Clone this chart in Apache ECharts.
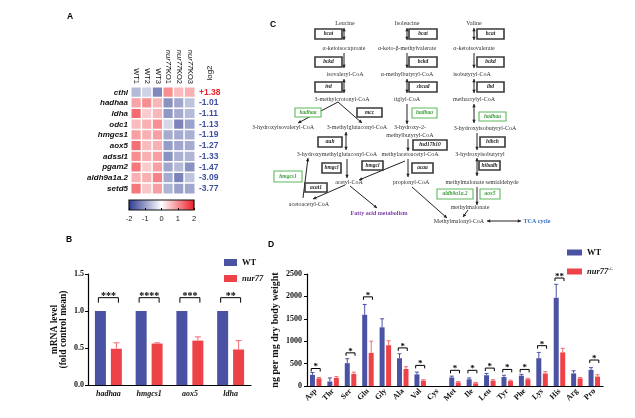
<!DOCTYPE html>
<html><head><meta charset="utf-8">
<script src="https://cdn.jsdelivr.net/npm/echarts@6/dist/echarts.min.js"></script>
<style>html,body{margin:0;padding:0;background:#fff}#c{width:635px;height:418px}</style>
</head><body><div id="c"></div>
<script>
// ---------- DATA ----------
const hmCols = ['WT1','WT2','WT3','nur77KO1','nur77KO2','nur77KO3'];
const hmRows = ['cthl','hadhaa','ldha','odc1','hmgcs1','aox5','adssl1','pgam2','aldh9a1a.2','setd5'];
const hmValues = [
  [-0.7,-0.45,-1.2, 1.0, 0.6, 0.7],
  [ 0.8, 1.0, 0.65,-1.1,-0.9,-0.6],
  [ 1.3, 0.45,0.65,-1.05,-0.85,-0.7],
  [ 0.6, 0.7, 1.0,-0.4,-1.25,-0.95],
  [ 0.85,0.7, 0.85,-0.85,-0.85,-0.8],
  [ 1.25,0.6, 0.7,-1.0,-0.9,-0.85],
  [ 1.0, 0.7, 0.85,-1.1,-0.8,-0.75],
  [ 1.2, 0.45,0.85,-0.9,-0.7,-1.1],
  [ 0.7, 0.7, 1.1,-0.85,-1.25,-0.6],
  [ 1.2, 0.5, 0.85,-0.75,-0.95,-0.9]
];
const log2Labels = ['+1.38','-1.01','-1.11','-1.13','-1.19','-1.27','-1.33','-1.47','-3.09','-3.77'];
const cbTicks = [-2,-1,0,1,2];

const bCats = ['hadhaa','hmgcs1','aox5','ldha'];
const bWT = [1,1,1,1];
const bKO = [0.49,0.56,0.60,0.48];
const bKOerr = [0.08,0.01,0.05,0.12];
const bBracketY = [1.18,1.18,1.18,1.18];
const bStars = ['***','****','***','**'];

const dCats = ['Asp','Thr','Ser','Glu','Gly','Ala','Val','Cys','Met','Ile','Leu','Tyr','Phe','Lys','His','Arg','Pro'];
const dWT    = [250,100,510,1590,1310,620,260,0,190,150,240,200,230,620,1970,280,360];
const dWTerr = [ 50, 80,100, 230, 190,100, 50,0, 30, 30, 40, 40, 30,130, 300, 60, 50];
const dKO    = [170,180,270, 740, 910,380,120,0, 80, 60,120,110,150,280, 750,170,210];
const dKOerr = [ 20, 30, 40, 260, 100, 50, 20,0, 20, 20, 20, 20, 20, 40,  90, 20, 40];
const dSigCat = [0,2,3,5,6,8,9,10,11,12,13,14,16];
const dSigY   = [390,740,1990,850,460,350,350,400,370,370,900,2410,580];
const dSigLbl = ['*','*','*','*','*','*','*','*','*','*','*','**','*'];

// pathway diagram (panel C)
const cMetab = [
 ['Leucine',345,23],['Isoleucine',407,23],['Valine',474,23],
 ['α-ketoisocaproate',344,48],['α-keto-β-methylvalerate',407,48],['α-ketoisovalerate',474,48],
 ['isovaleryl-CoA',345,74],['α-methylbutyryl-CoA',407,74],['isobutyryl-CoA',472,74],
 ['3-methylcrotonyl-CoA',342,99],['tiglyl-CoA',407,99],['methacrylyl-CoA',474,99],
 ['3-hydroxyisovaleryl-CoA',283,127],['3-methylglutaconyl-CoA',357,127],['3-hydroxy-2-',410,127],['methylbutyryl-CoA',410,135],['3-hydroxyisobutyryl-CoA',485,128],
 ['3-hydroxymethylglutaconyl-CoA',337,154],['methylacetoacetyl-CoA',410,154],['3-hydroxyisobutyryl',480,154],
 ['acetyl-CoA',349,182],['propionyl-CoA',411,182],['methylmalonate semialdehyde',482,182],
 ['acetoacetyl-CoA',309,204],['methylmalonate',470,207],['Methylmalonyl-CoA',459,221]
];
const cSpecial = [['Fatty acid metabolism',379,213,'#7b3fa6'],['TCA cycle',537,221,'#3a6fc4']];
const cBoxes = [
 ['bcat',315,29,342,39,0],['bcat',409,29,437,39,0],['bcat',477,29,504,39,0],
 ['bckd',315,57,342,67,0],['bckd',409,57,437,67,0],['bckd',477,57,504,67,0],
 ['ivd',315,82,342,92,0],['sbcad',409,82,437,92,0],['ibd',477,82,504,92,0],
 ['hadhaa',295,108,321,117,1],['mcc',357,108,382,117,0],['hadhaa',412,108,437,118,1],['hadhaa',479,112,506,121,1],
 ['auh',318,137,342,147,0],['hsd17b10',413,140,447,150,0],['hibch',480,137,505,147,0],
 ['hmgcl',322,163,341,173,0],['hmgcl',362,161,383,170,0],['acaa',412,163,433,173,0],['hibadh',479,161,500,170,0],
 ['hmgcs1',274,171,302,182,1],['acat1',305,183,327,192,0],['aldh9a1a.2',437,189,473,199,1],['aox5',480,189,500,199,1]
];
const cArrows = [
 [344,28,344,40,1],[407,28,407,40,1],[474,28,474,40,1],
 [344,53,344,68,0],[407,53,407,68,0],[474,53,474,68,0],
 [344,79,344,93,1],[407,79,407,93,1],[474,79,474,93,1],
 [338,102,298,123,0],[338,102,362,123,0],[407,104,407,124,0],[474,104,474,123,1],
 [346,132,346,150,1],[408,139,408,151,0],[477,133,477,150,0],
 [347,159,347,178,0],[405,161,359,180,0],[408,159,408,177,0],[477,158,477,176,1],
 [303,198,308,158,0],[345,185,313,199,0],[350,186,377,208,0],
 [412,187,447,218,0],[477,187,477,205,0],[468,210,463,217,0],[487,221,521,221,1]
];

// ---------- STYLE ----------
const SERIF = '"Liberation Serif","Times New Roman",serif';
const SANS = '"Liberation Sans",Arial,sans-serif';
const BLUE = '#4a52a3', RED = '#ee4249';

function txt(x,y,t,o){o=o||{};return {type:'text',x:x,y:y,rotation:o.rot||0,z:o.z||10,style:{text:t,fill:o.fill||'#222',font:o.font||('6px '+SERIF),align:o.align||'center',verticalAlign:o.va||'middle',textAlign:o.align||'center',textVerticalAlign:o.va||'middle'}};}
function head(tx,ty,fx,fy){const a=Math.atan2(ty-fy,tx-fx),s=3.2,h=1.7,c=Math.cos(a),n=Math.sin(a);
 return {type:'polygon',z:6,shape:{points:[[tx,ty],[tx-s*c-h*n,ty-s*n+h*c],[tx-s*c+h*n,ty-s*n-h*c]]},style:{fill:'#222'}};}
const gfx = [];
[['A',70,17],['B',69,240],['C',273,25],['D',271,245]].forEach(p=>gfx.push(txt(p[1],p[2],p[0],{font:'bold 8.5px '+SANS,fill:'#000'})));
gfx.push(txt(210,73,'log2',{rot:Math.PI/2,font:'8px '+SANS,fill:'#111'}));
cArrows.forEach(a=>{gfx.push({type:'line',z:5,shape:{x1:a[0],y1:a[1],x2:a[2],y2:a[3]},style:{stroke:'#222',lineWidth:1}});
 gfx.push(head(a[2],a[3],a[0],a[1])); if(a[4]) gfx.push(head(a[0],a[1],a[2],a[3]));});
cBoxes.forEach(b=>{const g=b[5];
 gfx.push({type:'rect',z:7,shape:{x:b[1],y:b[2],width:b[3]-b[1],height:b[4]-b[2]},style:{fill:'#fff',stroke:g?'#5cb85c':'#3a3a3a',lineWidth:g?1.1:1.6}});
 gfx.push(txt((b[1]+b[3])/2,(b[2]+b[4])/2,b[0],{font:'italic bold 5.5px '+SERIF,fill:g?'#3c9c3c':'#222'}));});
cMetab.forEach(m=>gfx.push(txt(m[1],m[2],m[0],{font:'6px '+SERIF,fill:'#333'})));
cSpecial.forEach(m=>gfx.push(txt(m[1],m[2],m[0],{font:'bold 6px '+SERIF,fill:m[3]})));

function errRender(off,color,cap){return function(params,api){const c=api.value(0),v=api.value(1),e=api.value(2);
 if(!e) return null; const p0=api.coord([c,v]),p1=api.coord([c,v+e]);const x=p0[0]+off;
 return {type:'group',children:[{type:'line',shape:{x1:x,y1:p0[1],x2:x,y2:p1[1]},style:{stroke:color,lineWidth:1}},
  {type:'line',shape:{x1:x-cap,y1:p1[1],x2:x+cap,y2:p1[1]},style:{stroke:color,lineWidth:1}}]};};}
function brRender(half,leg,labels,fs,dy){return function(params,api){const c=api.value(0),v=api.value(1);const p=api.coord([c,v]);
 const xl=p[0]-half,xr=p[0]+half,y=p[1];
 return {type:'group',children:[{type:'polyline',shape:{points:[[xl,y+leg],[xl,y],[xr,y],[xr,y+leg]]},style:{stroke:'#000',fill:null,lineWidth:1}},
  {type:'text',x:p[0],y:y+dy,style:{text:labels[params.dataIndex],font:'bold '+fs+'px '+SERIF,fill:'#000',align:'center',verticalAlign:'middle',textAlign:'center',textVerticalAlign:'middle'}}]};};}

const hmData=[]; hmValues.forEach((row,r)=>row.forEach((v,c)=>hmData.push([c,r,v])));
const axBlack={lineStyle:{color:'#000',width:1.2}};

const option = {
 animation:false, backgroundColor:'#fff',
 graphic:{elements:gfx},
 visualMap:{show:false,min:-2,max:2,seriesIndex:0,inRange:{color:['#2b3990','#ffffff','#ec1c24']}},
 legend:[
  {data:['WT','nur77'],left:219,top:253,orient:'vertical',icon:'rect',itemWidth:13,itemHeight:7,itemGap:7,
   formatter:n=>n==='nur77'?'{i|nur77}':n,textStyle:{fontFamily:SERIF,fontWeight:'bold',fontSize:8.5,color:'#111',rich:{i:{fontStyle:'italic',fontWeight:'bold',fontFamily:SERIF,fontSize:8.5}}}},
  {data:['WT','nur77-/-'],left:562,top:243,orient:'vertical',icon:'rect',itemWidth:15,itemHeight:6,itemGap:9,
   formatter:n=>n==='WT'?n:'{i|nur77}{s|-/-}',
   textStyle:{fontFamily:SERIF,fontWeight:'bold',fontSize:8.5,color:'#111',rich:{i:{fontStyle:'italic',fontWeight:'bold',fontFamily:SERIF,fontSize:8.5},s:{fontSize:5,verticalAlign:'top',fontFamily:SERIF,padding:[0,0,6,0]}}}}
 ],
 grid:[
  {left:131,top:87,width:64,height:107},
  {left:129,top:200,width:65,height:10,show:true,borderColor:'#111',borderWidth:1.2,
   backgroundColor:{type:'linear',x:0,y:0,x2:1,y2:0,colorStops:[{offset:0,color:'#2b3990'},{offset:0.5,color:'#ffffff'},{offset:1,color:'#ec1c24'}]}},
  {left:88,top:274,width:163,height:111},
  {left:307,top:274,width:296,height:112}
 ],
 xAxis:[
  {type:'category',gridIndex:0,data:hmCols,position:'top',axisLine:{show:false},axisTick:{show:false},
   axisLabel:{interval:0,rotate:90,margin:3,fontFamily:SANS,fontSize:7.5,color:'#111',
    formatter:v=>v.indexOf('nur77')===0?'{i|nur77}'+v.slice(5):v,rich:{i:{fontStyle:'italic',fontFamily:SANS,fontSize:7.5,color:'#111'}}}},
  {type:'value',gridIndex:1,min:-2,max:2,interval:1,axisLine:{show:false},splitLine:{show:false},
   axisTick:{show:true,inside:true,length:2,lineStyle:{color:'#000'}},
   axisLabel:{margin:5,fontFamily:SANS,fontSize:7.5,color:'#222',formatter:v=>cbTicks.indexOf(v)>=0?String(v):''}},
  {type:'category',gridIndex:2,data:bCats,axisLine:axBlack,axisTick:{alignWithLabel:true,length:3,lineStyle:{color:'#000'}},
   axisLabel:{interval:0,margin:5,fontFamily:SERIF,fontSize:8,fontWeight:'bold',fontStyle:'italic',color:'#111'}},
  {type:'category',gridIndex:3,data:dCats,axisLine:axBlack,axisTick:{alignWithLabel:true,length:3,lineStyle:{color:'#000'}},
   axisLabel:{rotate:45,margin:4,interval:0,fontFamily:SERIF,fontSize:8,fontWeight:'bold',color:'#111'}}
 ],
 yAxis:[
  {type:'category',gridIndex:0,data:hmRows,inverse:true,axisLine:{show:false},axisTick:{show:false},
   axisLabel:{interval:0,margin:3,fontFamily:SANS,fontSize:8,fontWeight:'bold',fontStyle:'italic',color:'#111'}},
  {type:'category',gridIndex:0,data:log2Labels,inverse:true,position:'right',axisLine:{show:false},axisTick:{show:false},
   axisLabel:{interval:0,margin:4,fontFamily:SANS,fontSize:8.5,fontWeight:'bold',color:(v)=>String(v).charAt(0)==='+'?'#e8262d':'#3d4ea0'}},
  {type:'value',gridIndex:1,show:false,min:0,max:1},
  {type:'value',gridIndex:2,min:0,max:1.5,interval:0.5,axisLine:{show:true,lineStyle:{color:'#000',width:1.2}},
   axisTick:{show:true,length:3,lineStyle:{color:'#000'}},splitLine:{show:false},
   axisLabel:{margin:4,fontFamily:SERIF,fontSize:8,fontWeight:'bold',color:'#111',formatter:v=>v.toFixed(1)},
   name:'mRNA level\n(fold control mean)',nameLocation:'middle',nameRotate:90,nameGap:20,
   nameTextStyle:{fontFamily:SERIF,fontSize:9.5,fontWeight:'bold',color:'#111',lineHeight:9}},
  {type:'value',gridIndex:3,min:0,max:2500,interval:500,axisLine:{show:true,lineStyle:{color:'#000',width:1.2}},
   axisTick:{show:true,length:3,lineStyle:{color:'#000'}},splitLine:{show:false},
   axisLabel:{margin:5,fontFamily:SERIF,fontSize:8,fontWeight:'bold',color:'#111',formatter:v=>String(v)},
   name:'ng per mg dry body weight',nameLocation:'middle',nameRotate:90,nameGap:27,
   nameTextStyle:{fontFamily:SERIF,fontSize:10,fontWeight:'bold',color:'#111'}}
 ],
 series:[
  {type:'heatmap',xAxisIndex:0,yAxisIndex:0,data:hmData,itemStyle:{borderColor:'#fff',borderWidth:1.5}},
  {name:'WT',type:'bar',xAxisIndex:2,yAxisIndex:3,data:bWT,barWidth:11,barGap:'45%',itemStyle:{color:BLUE}},
  {name:'nur77',type:'bar',xAxisIndex:2,yAxisIndex:3,data:bKO,barWidth:11,itemStyle:{color:RED}},
  {type:'custom',xAxisIndex:2,yAxisIndex:3,z:5,renderItem:errRender(8,'#f06a70',3),data:bKO.map((v,i)=>[i,v,bKOerr[i]])},
  {type:'custom',xAxisIndex:2,yAxisIndex:3,z:5,renderItem:brRender(10,5,bStars,10,-1.5),data:bBracketY.map((v,i)=>[i,v])},
  {name:'WT',type:'bar',xAxisIndex:3,yAxisIndex:4,data:dWT,barWidth:5,barGap:'30%',itemStyle:{color:BLUE}},
  {name:'nur77-/-',type:'bar',xAxisIndex:3,yAxisIndex:4,data:dKO,barWidth:5,itemStyle:{color:RED}},
  {type:'custom',xAxisIndex:3,yAxisIndex:4,z:5,renderItem:errRender(-3.25,BLUE,2),data:dWT.map((v,i)=>[i,v,dWTerr[i]])},
  {type:'custom',xAxisIndex:3,yAxisIndex:4,z:5,renderItem:errRender(3.25,'#f06a70',2),data:dKO.map((v,i)=>[i,v,dKOerr[i]])},
  {type:'custom',xAxisIndex:3,yAxisIndex:4,z:5,renderItem:brRender(4.5,3,dSigLbl,9,-1.5),data:dSigCat.map((c,i)=>[c,dSigY[i]])}
 ]
};
const chart = echarts.init(document.getElementById('c'));
chart.setOption(option);
</script></body></html>
